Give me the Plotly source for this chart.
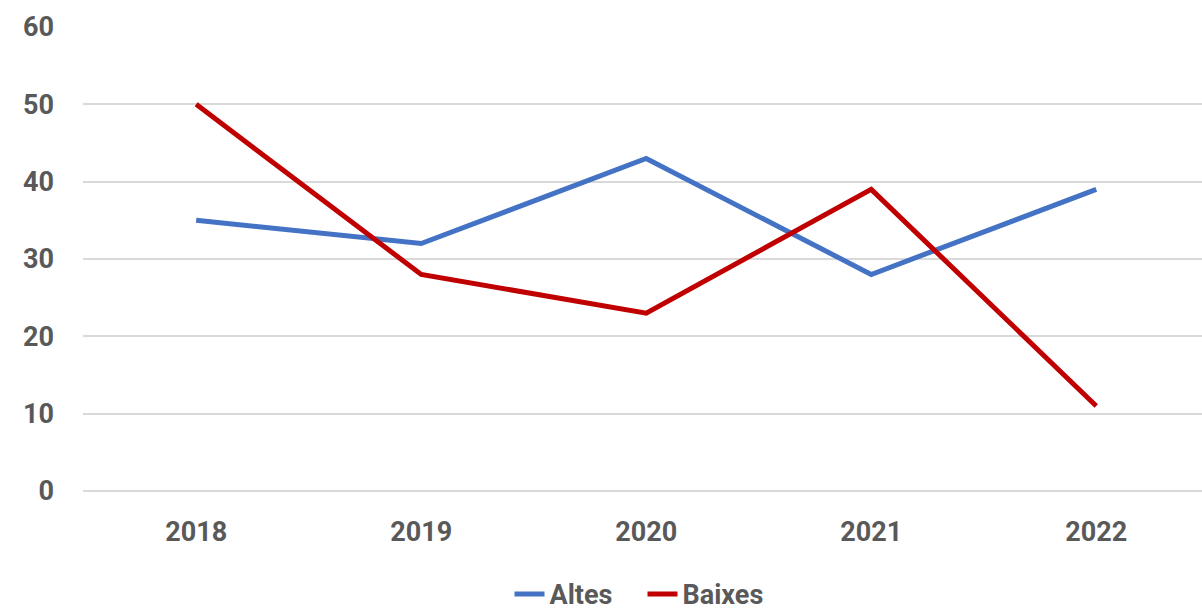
import plotly.graph_objects as go

years = ["2018", "2019", "2020", "2021", "2022"]
altes = [35, 32, 43, 28, 39]
baixes = [50, 28, 23, 39, 11]

font_family = "Roboto"
txt_color = "#595959"

fig = go.Figure()
fig.add_trace(go.Scatter(x=years, y=altes, mode="lines", name="Altes",
                         line=dict(color="#4472C4", width=5)))
fig.add_trace(go.Scatter(x=years, y=baixes, mode="lines", name="Baixes",
                         line=dict(color="#C00000", width=5)))

fig.update_layout(
    width=1202, height=611,
    margin=dict(l=83, r=0, t=27, b=120, autoexpand=False),
    plot_bgcolor="white", paper_bgcolor="white",
    font=dict(family=font_family, size=27, color=txt_color, weight="bold"),
    xaxis=dict(type="category", range=[-0.503, 4.47], showgrid=False,
               showline=False, ticks="", ticklabelstandoff=22,
               tickfont=dict(size=27, color=txt_color, weight="bold")),
    yaxis=dict(range=[0, 60], dtick=10, showgrid=True, gridcolor="#d9d9d9", gridwidth=1.5,
               zeroline=True, zerolinecolor="#d9d9d9", zerolinewidth=1.5,
               ticks="", ticklabelstandoff=28,
               tickfont=dict(size=27, color=txt_color, weight="bold")),
    legend=dict(orientation="h", x=0.5, xanchor="center", y=-0.17, yanchor="top",
                font=dict(size=27, color=txt_color, weight="bold"),
                entrywidth=88, entrywidthmode="pixels"),
    showlegend=True,
)
fig.write_html("out.html", config={"displayModeBar": False},
               post_script="document.body.style.margin='0';document.body.style.overflow='hidden';")
